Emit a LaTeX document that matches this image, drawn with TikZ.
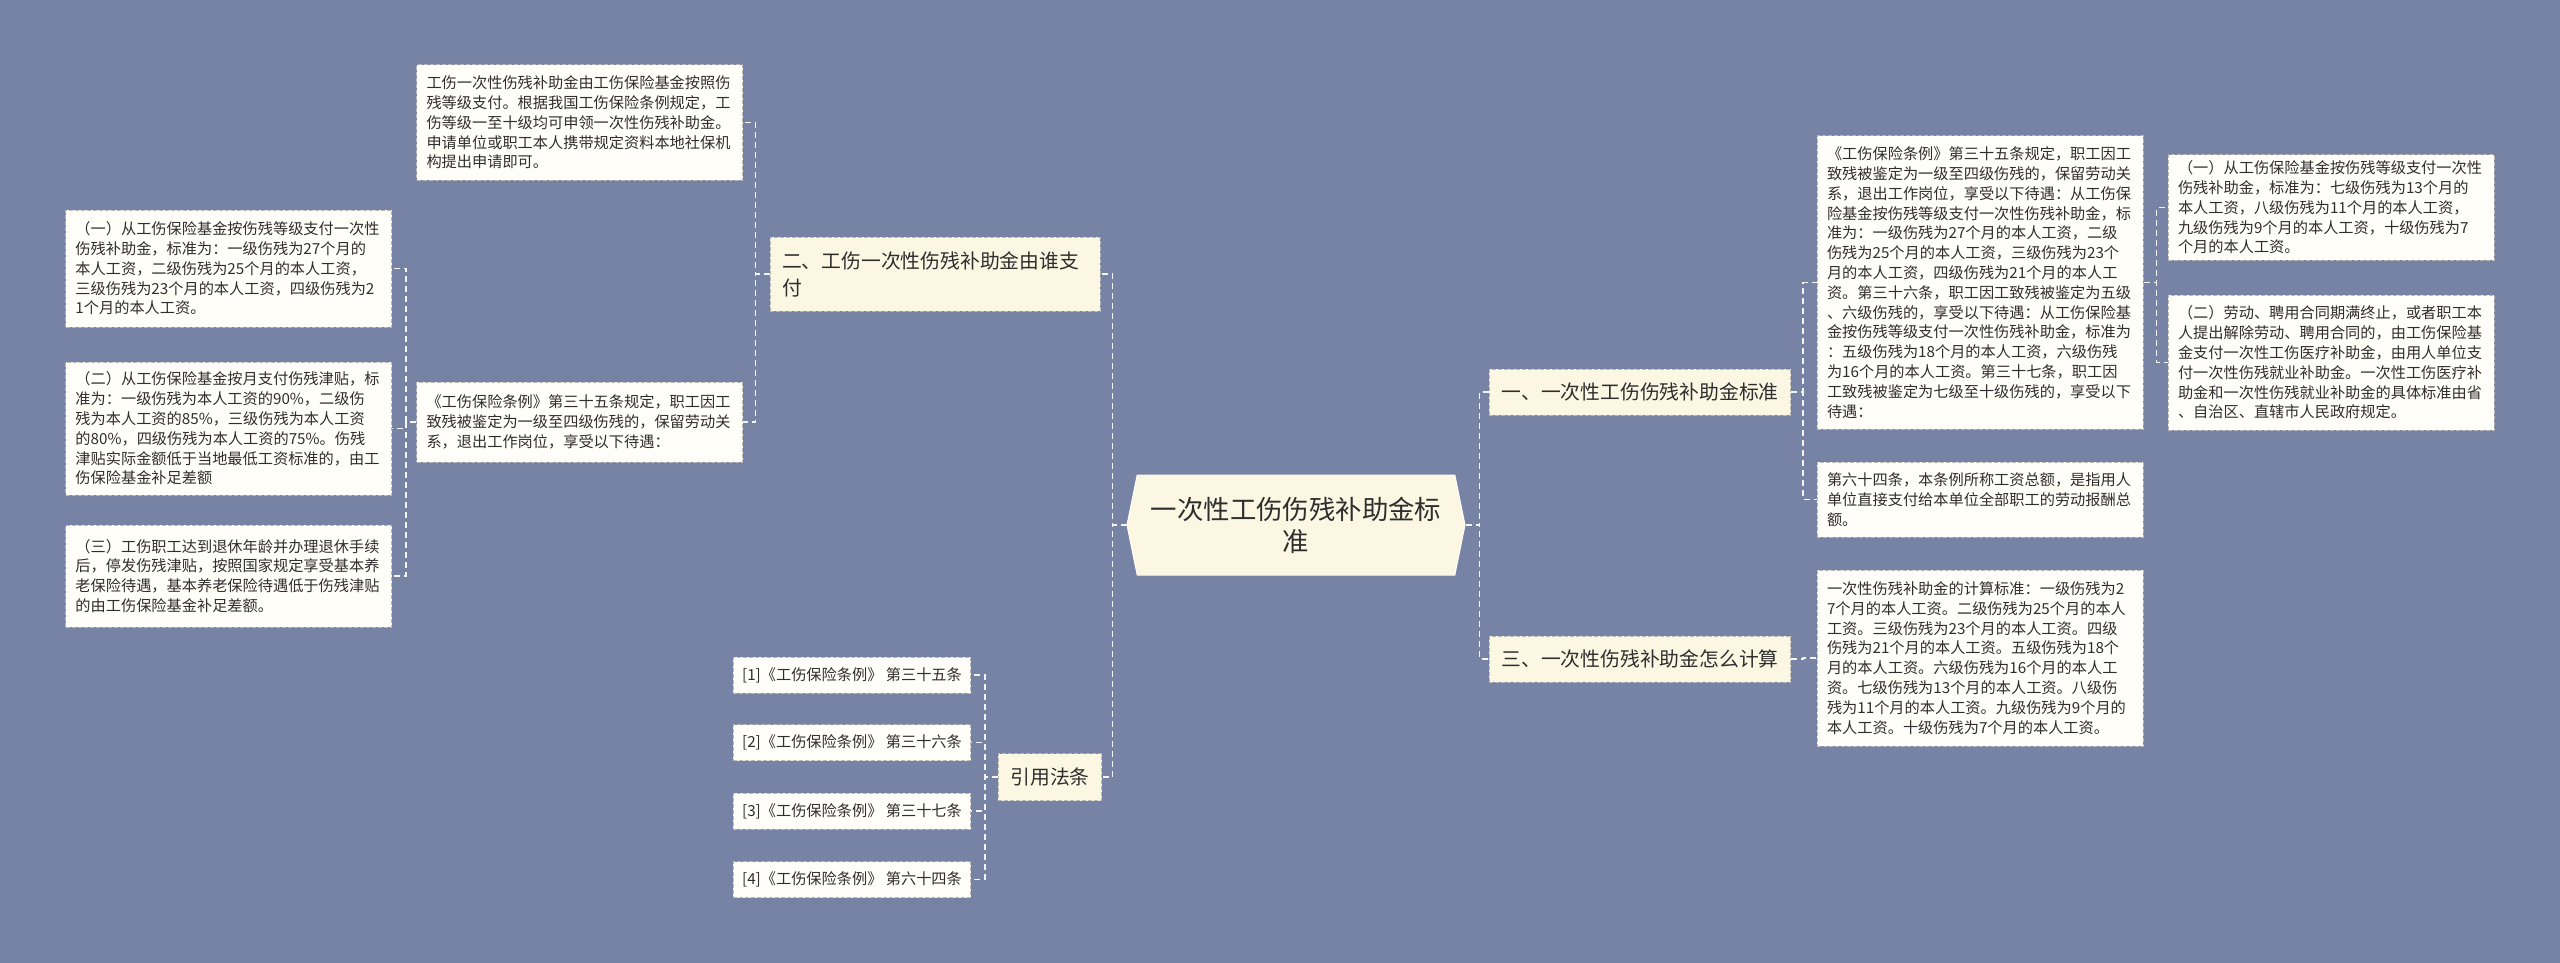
\documentclass[tikz,border=0pt]{standalone}
\usepackage{fontspec}
\setmainfont{Noto Sans CJK SC}
\usetikzlibrary{shapes.symbols}
\definecolor{bgblue}   {HTML}{7783A4}
\definecolor{topicfill}{HTML}{FCF7E3}
\definecolor{leaffill} {HTML}{FFFEF8}
\definecolor{boxline}  {HTML}{B8B8B8}
\definecolor{linkcol}  {HTML}{F4F4F4}
\definecolor{inkcol}   {HTML}{2E2E2E}

\begin{document}
\begin{tikzpicture}[x=0.5pt, y=-0.5pt,
  hub/.style = {signal, signal to=east and west, signal pointer angle=157,
                fill=topicfill, draw=white!60!topicfill, line width=0.5pt,
                minimum width=169pt, minimum height=50pt, align=center,
                text=inkcol, font=\fontsize{13.2pt}{16pt}\selectfont},
  topic/.style = {rectangle, fill=topicfill, draw=boxline, dash pattern=on 2pt off 1pt,
                  line width=0.5pt, inner xsep=6pt, inner ysep=0pt, align=left,
                  text=inkcol, font=\fontsize{9.9pt}{13.5pt}\selectfont},
  leaf/.style = {rectangle, fill=leaffill, draw=boxline, dash pattern=on 2pt off 1pt,
                 line width=0.5pt, inner xsep=5pt, inner ysep=0pt, text width=153pt,
                 align=left, text=inkcol, font=\fontsize{7.6pt}{9.9pt}\selectfont},
  cite/.style = {rectangle, fill=leaffill, draw=boxline, dash pattern=on 2pt off 1pt,
                 line width=0.5pt, inner xsep=4.5pt, inner ysep=0pt, minimum height=18pt,
                 text=inkcol, font=\fontsize{7.6pt}{9.9pt}\selectfont},
  link/.style = {draw=linkcol, line width=0.85pt, dash pattern=on 3pt off 2pt}
]
\fill[bgblue] (0,0) rectangle (2560,963);
\useasboundingbox (0,0) rectangle (2560,963);

\node[hub] (root) at (1296,525) {一次性工伤伤残补助金标\\准};

\node[topic, minimum height=23pt] (std) at (1640,392) {一、一次性工伤伤残补助金标准};
\node[topic, minimum height=23pt] (calc) at (1640,659) {三、一次性伤残补助金怎么计算};
\node[topic, text width=153pt, minimum height=37pt] (payer) at (935,274)
  {二、工伤一次性伤残补助金由谁支\\付};
\node[topic, minimum height=23.5pt] (laws) at (1050,777) {引用法条};

% right side
\node[leaf, minimum height=146.5pt] (stdA) at (1980,282.5)
  {《工伤保险条例》第三十五条规定，职工因工\\
   致残被鉴定为一级至四级伤残的，保留劳动关\\
   系，退出工作岗位，享受以下待遇：从工伤保\\
   险基金按伤残等级支付一次性伤残补助金，标\\
   准为：一级伤残为27个月的本人工资，二级\\
   伤残为25个月的本人工资，三级伤残为23个\\
   月的本人工资，四级伤残为21个月的本人工\\
   资。第三十六条，职工因工致残被鉴定为五级\\
   、六级伤残的，享受以下待遇：从工伤保险基\\
   金按伤残等级支付一次性伤残补助金，标准为\\
   ：五级伤残为18个月的本人工资，六级伤残\\
   为16个月的本人工资。第三十七条，职工因\\
   工致残被鉴定为七级至十级伤残的，享受以下\\
   待遇：};
\node[leaf, minimum height=37.5pt] (stdB) at (1980,499.5)
  {第六十四条，本条例所称工资总额，是指用人\\
   单位直接支付给本单位全部职工的劳动报酬总\\
   额。};
\node[leaf, minimum height=52.5pt] (stdA1) at (2331,207.5)
  {（一）从工伤保险基金按伤残等级支付一次性\\
   伤残补助金，标准为：七级伤残为13个月的\\
   本人工资，八级伤残为11个月的本人工资，\\
   九级伤残为9个月的本人工资，十级伤残为7\\
   个月的本人工资。};
\node[leaf, minimum height=67.5pt] (stdA2) at (2331,362.5)
  {（二）劳动、聘用合同期满终止，或者职工本\\
   人提出解除劳动、聘用合同的，由工伤保险基\\
   金支付一次性工伤医疗补助金，由用人单位支\\
   付一次性伤残就业补助金。一次性工伤医疗补\\
   助金和一次性伤残就业补助金的具体标准由省\\
   、自治区、直辖市人民政府规定。};
\node[leaf, minimum height=88pt] (calcA) at (1980,658)
  {一次性伤残补助金的计算标准：一级伤残为2\\
   7个月的本人工资。二级伤残为25个月的本人\\
   工资。三级伤残为23个月的本人工资。四级\\
   伤残为21个月的本人工资。五级伤残为18个\\
   月的本人工资。六级伤残为16个月的本人工\\
   资。七级伤残为13个月的本人工资。八级伤\\
   残为11个月的本人工资。九级伤残为9个月的\\
   本人工资。十级伤残为7个月的本人工资。};

% left side
\node[leaf, minimum height=57.5pt] (payA) at (579.5,122.5)
  {工伤一次性伤残补助金由工伤保险基金按照伤\\
   残等级支付。根据我国工伤保险条例规定，工\\
   伤等级一至十级均可申领一次性伤残补助金。\\
   申请单位或职工本人携带规定资料本地社保机\\
   构提出申请即可。};
\node[leaf, minimum height=40pt] (payB) at (579.5,422)
  {《工伤保险条例》第三十五条规定，职工因工\\
   致残被鉴定为一级至四级伤残的，保留劳动关\\
   系，退出工作岗位，享受以下待遇：};
\node[leaf, minimum height=58.5pt] (payB1) at (228.5,268.5)
  {（一）从工伤保险基金按伤残等级支付一次性\\
   伤残补助金，标准为：一级伤残为27个月的\\
   本人工资，二级伤残为25个月的本人工资，\\
   三级伤残为23个月的本人工资，四级伤残为2\\
   1个月的本人工资。};
\node[leaf, minimum height=66.5pt] (payB2) at (228.5,428.5)
  {（二）从工伤保险基金按月支付伤残津贴，标\\
   准为：一级伤残为本人工资的90\%，二级伤\\
   残为本人工资的85\%，三级伤残为本人工资\\
   的80\%，四级伤残为本人工资的75\%。伤残\\
   津贴实际金额低于当地最低工资标准的，由工\\
   伤保险基金补足差额};
\node[leaf, minimum height=51pt] (payB3) at (228.5,576)
  {（三）工伤职工达到退休年龄并办理退休手续\\
   后，停发伤残津贴，按照国家规定享受基本养\\
   老保险待遇，基本养老保险待遇低于伤残津贴\\
   的由工伤保险基金补足差额。};

\node[cite] (law1) at (852,675)   {[1]《工伤保险条例》 第三十五条};
\node[cite] (law2) at (852,742.5) {[2]《工伤保险条例》 第三十六条};
\node[cite] (law3) at (852,811)   {[3]《工伤保险条例》 第三十七条};
\node[cite] (law4) at (852,879.5) {[4]《工伤保险条例》 第六十四条};

% connectors
\draw[link] (root.west) -- ++(-14,0) |- (payer.east);
\draw[link] (root.west) -- ++(-14,0) |- (laws.east);
\draw[link] (root.east) -- ++(14,0) |- (std.west);
\draw[link] (root.east) -- ++(14,0) |- (calc.west);
\draw[link] (std.east) -- ++(12,0) |- (stdA.west);
\draw[link] (std.east) -- ++(12,0) |- (stdB.west);
\draw[link] (stdA.east) -- ++(13,0) |- (stdA1.west);
\draw[link] (stdA.east) -- ++(13,0) |- (stdA2.west);
\draw[link] (calc.east) -- ++(12,0) |- (calcA.west);
\draw[link] (payer.west) -- ++(-14,0) |- (payA.east);
\draw[link] (payer.west) -- ++(-14,0) |- (payB.east);
\draw[link] (payB.west) -- ++(-10,0) |- (payB1.east);
\draw[link] (payB.west) -- ++(-10,0) |- (payB2.east);
\draw[link] (payB.west) -- ++(-10,0) |- (payB3.east);
\draw[link] (laws.west) -- ++(-13,0) |- (law1.east);
\draw[link] (laws.west) -- ++(-13,0) |- (law2.east);
\draw[link] (laws.west) -- ++(-13,0) |- (law3.east);
\draw[link] (laws.west) -- ++(-13,0) |- (law4.east);
\end{tikzpicture}
\end{document}
